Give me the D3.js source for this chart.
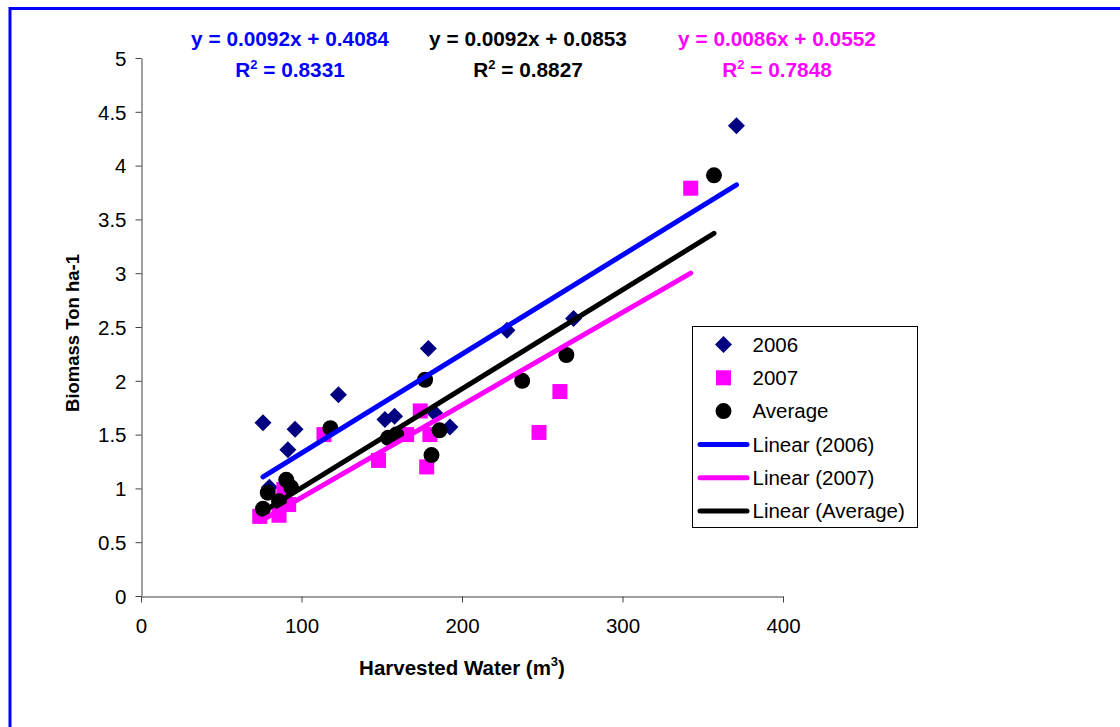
<!DOCTYPE html>
<html>
<head>
<meta charset="utf-8">
<script src="https://cdn.jsdelivr.net/npm/d3@7"></script>
<style>
  html, body { margin: 0; padding: 0; background: #fff; }
  svg { display: block; font-family: "Liberation Sans", Arial, sans-serif; }
</style>
</head>
<body>
<svg id="chart" width="1120" height="727"></svg>
<script>
// Harvested water (m3) vs biomass (ton/ha), per season and the two-season average
const water2006   = [76, 80, 91.5, 96, 123, 152, 158, 179, 183, 192.5, 228, 269.5, 371];
const biomass2006 = [1.61, 1.01, 1.36, 1.55, 1.87, 1.64, 1.67, 2.30, 1.70, 1.57, 2.47, 2.58, 4.37];

const water2007   = [74, 86, 89, 92, 114, 148, 165.5, 174, 178, 180, 248, 261, 342.5];
const biomass2007 = [0.74, 0.75, 0.99, 0.85, 1.50, 1.26, 1.50, 1.72, 1.20, 1.50, 1.52, 1.90, 3.79];

const waterAvg    = [76, 79, 86, 90.5, 93.5, 118, 154, 159, 177, 186, 181, 237.5, 265, 357];
const biomassAvg  = [0.81, 0.96, 0.88, 1.08, 1.01, 1.56, 1.47, 1.50, 2.01, 1.54, 1.31, 2.00, 2.24, 3.91];

// Linear trend coefficients: slope, intercept, R²
const seriesNames = ["2006", "2007", "Average"];
const slopes      = [0.0092, 0.0086, 0.0092];
const intercepts  = [0.4084, 0.0552, 0.0853];
const rSquared    = ["0.8331", "0.7848", "0.8827"];

const xTicks = [0, 100, 200, 300, 400];
const yTicks = [0, 0.5, 1, 1.5, 2, 2.5, 3, 3.5, 4, 4.5, 5];

const markerColors = ["#000080", "#FF00FF", "#000000"];
const lineColors   = ["#0000FF", "#FF00FF", "#000000"];

const svg = d3.select("#chart");

// chart area frame
svg.append("rect")
  .attr("x", 10).attr("y", 8.5)
  .attr("width", 1130).attr("height", 740)
  .attr("fill", "#fff")
  .attr("stroke", "#0000FF").attr("stroke-width", 3);

const x = d3.scaleLinear().domain([0, 400]).range([141, 783]);
const y = d3.scaleLinear().domain([0, 5]).range([596, 58]);

// axes
const gx = svg.append("g")
  .attr("transform", `translate(0,${y(0) + 0.5})`)
  .call(d3.axisBottom(x).tickValues(xTicks).tickSize(6).tickSizeOuter(0).tickPadding(8)
        .tickFormat(d3.format("d")));
const gy = svg.append("g")
  .attr("transform", `translate(${x(0) + 0.5},0)`)
  .call(d3.axisLeft(y).tickValues(yTicks).tickSize(6).tickSizeOuter(0).tickPadding(9)
        .tickFormat(d => String(d)));
[gx, gy].forEach(g => {
  g.select(".domain").attr("stroke", "#404040");
  g.selectAll(".tick line").attr("stroke", "#404040");
  g.selectAll(".tick text")
    .attr("fill", "#000")
    .style("font-family", '"Liberation Sans", Arial, sans-serif')
    .style("font-size", "20.5px");
});
gx.selectAll(".tick text").attr("y", 0).attr("dy", 0)
  .attr("transform", "translate(0,36.5)");
gy.selectAll(".tick text").attr("dy", "0.36em");

// axis titles
const xTitle = svg.append("text")
  .attr("x", x(200)).attr("y", 675)
  .attr("text-anchor", "middle")
  .style("font-size", "20.5px").style("font-weight", "bold");
xTitle.append("tspan").text("Harvested Water (m");
xTitle.append("tspan").attr("dy", -9).style("font-size", "13px").text("3");
xTitle.append("tspan").attr("dy", 9).text(")");

svg.append("text")
  .attr("transform", `translate(79,${(y(0) + y(5)) / 2 + 6}) rotate(-90)`)
  .attr("text-anchor", "middle")
  .style("font-size", "18.5px").style("font-weight", "bold")
  .text("Biomass Ton ha-1");

// markers
const seriesData = [
  d3.zip(water2006, biomass2006),
  d3.zip(water2007, biomass2007),
  d3.zip(waterAvg, biomassAvg)
];

function drawSymbol(sel, i) {
  if (i === 0) {
    // diamond, ~17px across
    sel.append("path").attr("d", "M0,-8.5L8.5,0L0,8.5L-8.5,0Z").attr("fill", markerColors[0]);
  } else if (i === 1) {
    sel.append("rect").attr("x", -7.5).attr("y", -7.5).attr("width", 15).attr("height", 15)
      .attr("fill", markerColors[1]);
  } else {
    sel.append("circle").attr("r", 8).attr("fill", markerColors[2]);
  }
}

seriesData.forEach((pts, i) => {
  const g = svg.append("g").attr("class", "series-" + i);
  g.selectAll("g").data(pts).join("g")
    .attr("transform", d => `translate(${x(d[0])},${y(d[1])})`)
    .each(function () { drawSymbol(d3.select(this), i); });
});

// trend lines, from the smallest to the largest water value of each series
seriesData.forEach((pts, i) => {
  const ext = d3.extent(pts, d => d[0]);
  const line = ext.map(v => [v, slopes[i] * v + intercepts[i]]);
  svg.append("line")
    .attr("x1", x(line[0][0])).attr("y1", y(line[0][1]))
    .attr("x2", x(line[1][0])).attr("y2", y(line[1][1]))
    .attr("stroke", lineColors[i]).attr("stroke-width", 5)
    .attr("stroke-linecap", "round");
});

// regression equations
const eqX = [290, 777, 528];
seriesData.forEach((pts, i) => {
  const fmt = v => v.toFixed(4);
  svg.append("text")
    .attr("x", eqX[i]).attr("y", 46)
    .attr("text-anchor", "middle")
    .attr("fill", lineColors[i])
    .style("font-size", "20.8px").style("font-weight", "bold")
    .text(`y = ${fmt(slopes[i])}x + ${fmt(intercepts[i])}`);
  const r = svg.append("text")
    .attr("x", eqX[i]).attr("y", 77)
    .attr("text-anchor", "middle")
    .attr("fill", lineColors[i])
    .style("font-size", "20.8px").style("font-weight", "bold");
  r.append("tspan").text("R");
  r.append("tspan").attr("dy", -8).style("font-size", "13px").text("2");
  r.append("tspan").attr("dy", 8).text(" = " + rSquared[i]);
});

// legend
const legend = svg.append("g");
legend.append("rect")
  .attr("x", 692.5).attr("y", 326.5).attr("width", 225).attr("height", 201)
  .attr("fill", "#fff").attr("stroke", "#000").attr("stroke-width", 1);
const legendLabels = seriesNames.concat(seriesNames.map(n => `Linear (${n})`));
legendLabels.forEach((label, k) => {
  const cy = 344.5 + k * 33.3;
  const row = legend.append("g").attr("transform", `translate(0,${cy})`);
  if (k < 3) {
    const m = row.append("g").attr("transform", "translate(723.5,0)");
    drawSymbol(m, k);
  } else {
    row.append("line").attr("x1", 700).attr("x2", 747).attr("y1", 0).attr("y2", 0)
      .attr("stroke", lineColors[k - 3]).attr("stroke-width", 5).attr("stroke-linecap", "round");
  }
  row.append("text")
    .attr("x", 752.5).attr("y", 0).attr("dy", "0.36em")
    .style("font-size", "20.5px")
    .text(label);
});
</script>
</body>
</html>
